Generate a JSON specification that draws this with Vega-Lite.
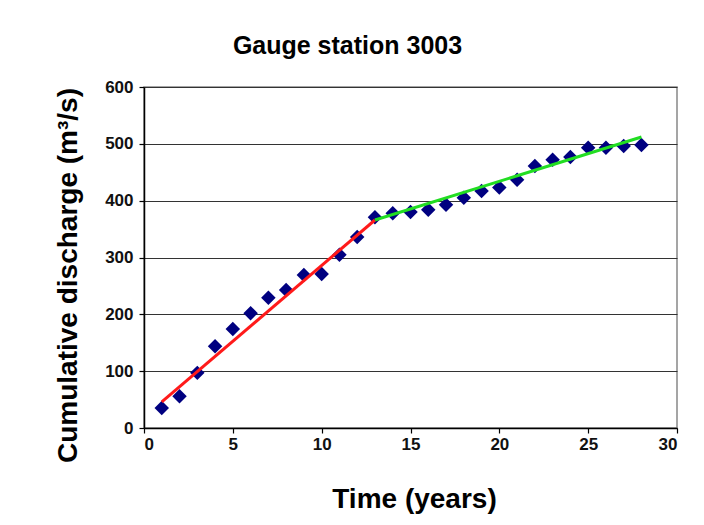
{
  "$schema": "https://vega.github.io/schema/vega-lite/v6.json",
  "width": 533,
  "height": 341,
  "autosize": "none",
  "padding": {"left": 144, "top": 87, "right": 27, "bottom": 97},
  "background": "white",
  "title": {"text": "Gauge station 3003", "font": "Liberation Sans", "fontSize": 25, "fontWeight": "bold", "color": "#000", "anchor": "middle", "offset": 19, "dx": -63},
  "config": {
    "view": {"stroke": "#888", "strokeWidth": 1.5},
    "axis": {"labelFont": "Liberation Sans", "labelFontWeight": "bold", "labelFontSize": 17, "labelColor": "#111", "titleFont": "Liberation Sans", "titleFontWeight": "bold", "titleFontSize": 28, "titleColor": "#000", "domainColor": "#000", "domainWidth": 1.5, "tickColor": "#000", "tickSize": 5, "tickWidth": 1.2}
  },
  "datasets": {
    "obs": [
      {"t": 1, "q": 35}, {"t": 2, "q": 56}, {"t": 3, "q": 97}, {"t": 4, "q": 144},
      {"t": 5, "q": 174}, {"t": 6, "q": 202}, {"t": 7, "q": 229}, {"t": 8, "q": 243},
      {"t": 9, "q": 269}, {"t": 10, "q": 271}, {"t": 11, "q": 305}, {"t": 12, "q": 336},
      {"t": 13, "q": 371}, {"t": 14, "q": 378}, {"t": 15, "q": 380}, {"t": 16, "q": 384},
      {"t": 17, "q": 393}, {"t": 18, "q": 405}, {"t": 19, "q": 417}, {"t": 20, "q": 423},
      {"t": 21, "q": 437}, {"t": 22, "q": 461}, {"t": 23, "q": 472}, {"t": 24, "q": 477},
      {"t": 25, "q": 493}, {"t": 26, "q": 493}, {"t": 27, "q": 496}, {"t": 28, "q": 498}
    ],
    "fit1": [{"t": 1, "q": 46}, {"t": 13, "q": 366}],
    "fit2": [{"t": 13, "q": 366}, {"t": 28, "q": 512}]
  },
  "layer": [
    {
      "data": {"name": "obs"},
      "mark": {"type": "point", "shape": "diamond", "filled": true, "color": "#000080", "size": 210, "opacity": 1},
      "encoding": {
        "x": {"field": "t", "type": "quantitative", "scale": {"domain": [0, 30], "nice": false},
          "axis": {"values": [0, 5, 10, 15, 20, 25, 30], "grid": false, "title": "Time (years)", "titlePadding": 33, "labelPadding": 3, "titleX": 270}},
        "y": {"field": "q", "type": "quantitative", "scale": {"domain": [0, 600], "nice": false},
          "axis": {"values": [0, 100, 200, 300, 400, 500, 600], "grid": true, "gridColor": "#333", "gridWidth": 1.2, "title": "Cumulative discharge (m³/s)", "titlePadding": 22, "labelPadding": 6, "titleY": 188}}
      }
    },
    {
      "data": {"name": "fit1"},
      "mark": {"type": "line", "color": "#ff1a1a", "strokeWidth": 3},
      "encoding": {"x": {"field": "t", "type": "quantitative"}, "y": {"field": "q", "type": "quantitative"}}
    },
    {
      "data": {"name": "fit2"},
      "mark": {"type": "line", "color": "#22dd22", "strokeWidth": 3},
      "encoding": {"x": {"field": "t", "type": "quantitative"}, "y": {"field": "q", "type": "quantitative"}}
    }
  ]
}
